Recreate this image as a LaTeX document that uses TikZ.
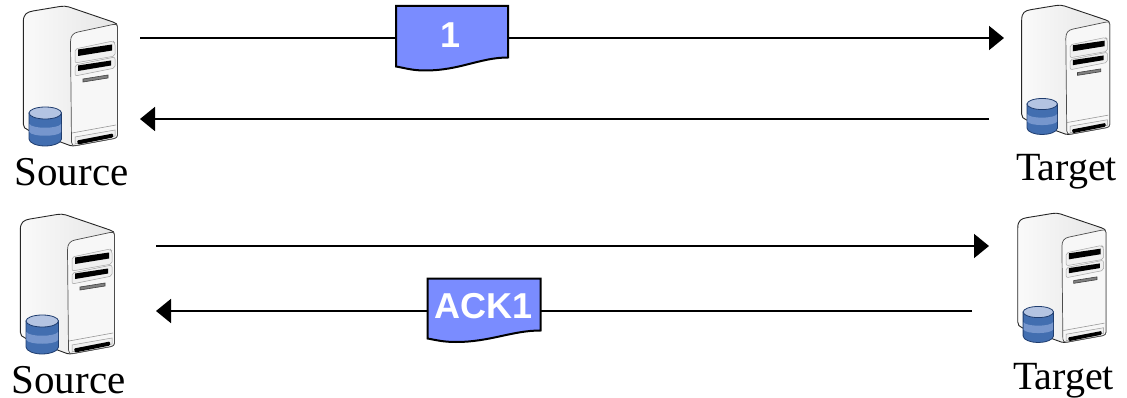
\documentclass[tikz,border=0pt]{standalone}
\usepackage{fontspec}
\setmainfont{Liberation Serif}
\newfontfamily\pktfont{Liberation Sans}
\usetikzlibrary{arrows.meta}
\definecolor{pktblue}{RGB}{122,140,255}
\definecolor{dbtop}{RGB}{180,196,226}
\definecolor{dbdark}{RGB}{66,110,176}
\definecolor{dbband}{RGB}{118,150,205}
\definecolor{dbline}{RGB}{30,60,110}
\tikzset{
  flow/.style={line width=1.8pt,-{Triangle[length=15pt,width=24pt]}},
  lbl/.style={inner sep=0pt,anchor=base,text=black},
  pkt/.style={draw=black,line width=2pt,fill=pktblue,line join=miter},
  pkttext/.style={inner sep=0pt,text=white,font=\pktfont\bfseries\fontsize{36}{36}\selectfont},
  server/.pic={
    \draw[line width=.9pt,draw=black!85,left color=black!2,right color=black!10]
      (23.3,22) .. controls (23.3,14) and (27,12) .. (33,11)
      -- (60,6.5) .. controls (63,6) and (66,6) .. (69,7)
      -- (113,22) .. controls (116,23) and (117.5,24) .. (117.5,27)
      -- (117.5,135) .. controls (117.5,137) and (116,138) .. (114,138.5)
      -- (76,145.5) .. controls (74,146) and (72,146) .. (70,145.5)
      -- (28,130) .. controls (25,129) and (23.3,127) .. (23.3,124) -- cycle;
    \draw[line width=.7pt,draw=black!70,fill=black!3]
      (70.5,42) .. controls (70.5,36) and (73,33) .. (78,32)
      -- (113,24.5) .. controls (116,24) and (117.5,24) .. (117.5,27)
      -- (117.5,135) .. controls (117.5,137) and (116,138) .. (114,138.5)
      -- (76,145.5) .. controls (73,146) and (71.5,145) .. (71.5,142) -- cycle;
    \draw[line width=.5pt,draw=black!35,fill=black!6,rounded corners=2pt]
      (75,49) -- (113,41) -- (115,43) -- (115,56) -- (75,63) -- cycle;
    \draw[line width=.5pt,draw=black!35,fill=black!6,rounded corners=2pt]
      (75,65) -- (115,57) -- (115,68) -- (75,76) -- cycle;
    \fill[black] (78,49.5) -- (112,44.5) -- (112,50.5) -- (78,56) -- cycle;
    \fill[black] (78,65.5) -- (111,60.5) -- (111,65.5) -- (78,71) -- cycle;
    \draw[line width=.6pt,draw=black!75,fill=black!50] (83,79) -- (108,75) -- (108,78) -- (83,82) -- cycle;
    \draw[line width=.6pt,draw=black!40] (72,133) -- (116,125);
    \draw[line width=.5pt,draw=black!40,fill=black!6] (75,137) -- (115,130) -- (115,136) -- (75,144) -- cycle;
    \fill[black,rounded corners=1pt] (77,140.5) -- (113,133.5) -- (113,137.5) -- (78,144.5) -- cycle;
    \draw[line width=.8pt,draw=dbline,fill=dbdark]
      (29,113) -- (29,139) .. controls (29,143) and (37,146) .. (45,146)
      .. controls (53,146) and (61.5,143) .. (61.5,139) -- (61.5,113) -- cycle;
    \fill[dbband] (29.4,124) .. controls (32,129) and (58,129) .. (61.1,124)
      -- (61.1,132) .. controls (58,137) and (32,137) .. (29.4,132) -- cycle;
    \draw[line width=.8pt,draw=dbline,fill=dbtop] (45.25,113) ellipse [x radius=16.25,y radius=6];
  }
}
\begin{document}
\begin{tikzpicture}[x=1pt,y=-1pt]
\useasboundingbox (0,0) rectangle (1127,398);
% servers
\pic at (0,0) {server};
\pic at (-3,208) {server};
\begin{scope}[shift={(999.9,-0.5)},xscale=.935,yscale=.925]
  \pic[transform shape] {server};
\end{scope}
\begin{scope}[shift={(996,207.5)},xscale=.935,yscale=.925]
  \pic[transform shape] {server};
\end{scope}
% labels
\node[lbl,font=\fontsize{41}{41}\selectfont] (src1) at (71.5,186) {Source};
\node[lbl,font=\fontsize{41}{41}\selectfont] (src2) at (68.5,393) {Source};
\node[lbl,font=\fontsize{40}{40}\selectfont] (tgt1) at (1066.5,181) {Target};
\node[lbl,font=\fontsize{40}{40}\selectfont] (tgt2) at (1063.5,389) {Target};
% connector ends
\coordinate (a1s) at (140,38);   \coordinate (a1t) at (1004,38);
\coordinate (a2s) at (989,119);  \coordinate (a2t) at (140,119);
\coordinate (a3s) at (156,246);  \coordinate (a3t) at (989,246);
\coordinate (a4s) at (972,311);  \coordinate (a4t) at (156,311);
\draw[flow] (a1s) -- (a1t);
\draw[flow] (a2s) -- (a2t);
\draw[flow] (a3s) -- (a3t);
\draw[flow] (a4s) -- (a4t);
% packets
\draw[pkt] (396,6) -- (508,6) -- (508,57.5)
  .. controls (480,57.5) and (460,70.5) .. (425,70.5)
  .. controls (412,70.5) and (405,68) .. (396,66.5) -- cycle;
\node[pkttext] (p1) at (451,35) {1};
\draw[pkt] (427.5,278.5) -- (540.5,278.5) -- (540.5,330.5)
  .. controls (512,330.5) and (490,342) .. (456,342)
  .. controls (443,342) and (436,340) .. (427.5,338.5) -- cycle;
\node[pkttext] (p2) at (484,306.5) {ACK1};
\end{tikzpicture}
\end{document}
